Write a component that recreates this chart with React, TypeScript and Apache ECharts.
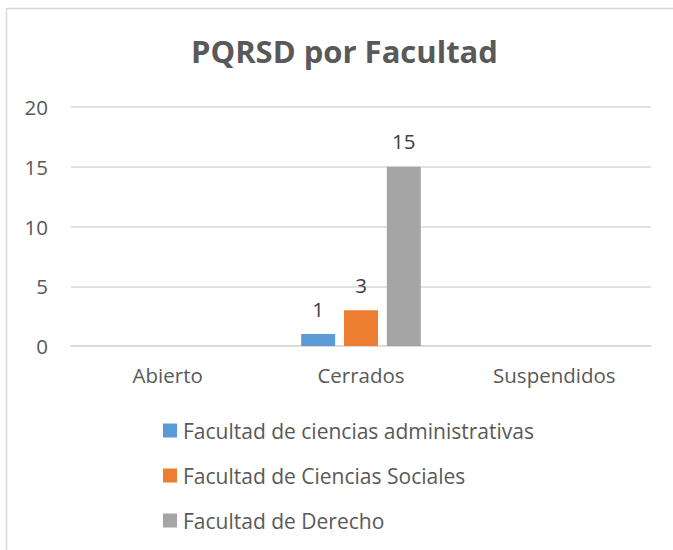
import React, { useEffect, useRef } from "react";
import * as echarts from "echarts";

const categories = ["Abierto", "Cerrados", "Suspendidos"];
const seriesNames = [
  "Facultad de ciencias administrativas",
  "Facultad de Ciencias Sociales",
  "Facultad de Derecho",
];
const adminValues = [null, 1, null];
const socialesValues = [null, 3, null];
const derechoValues = [null, 15, null];
const colors = ["#5B9BD5", "#ED7D31", "#A5A5A5"];
const yTicks = { min: 0, max: 20, interval: 5 };

const FONT = "'Open Sans', sans-serif";

export default function App() {
  const ref = useRef<HTMLDivElement>(null);
  useEffect(() => {
    if (!ref.current) return;
    const chart = echarts.init(ref.current, null, { renderer: "svg" });
    const values = [adminValues, socialesValues, derechoValues];
    chart.setOption({
      animation: false,
      backgroundColor: "#ffffff",
      title: {
        text: "PQRSD por Facultad",
        left: 191,
        top: 35,
        padding: 0,
        textStyle: { fontFamily: FONT, fontSize: 31, fontWeight: "bold", color: "#595959" },
      },
      graphic: [
        {
          type: "rect",
          shape: { x: 6.5, y: 8.5, width: 700, height: 600 },
          style: { fill: "none", stroke: "#D9D9D9", lineWidth: 1.5 },
          silent: true,
        },
      ],
      grid: { left: 71, right: 22, top: 107, bottom: 204, containLabel: false },
      legend: {
        orient: "vertical",
        left: 163,
        top: 420,
        padding: 0,
        itemWidth: 14,
        itemHeight: 14,
        itemGap: 24,
        icon: "rect",
        data: seriesNames,
        textStyle: { fontFamily: FONT, fontSize: 21, color: "#595959", padding: [0, 0, 0, 1] },
      },
      xAxis: {
        type: "category",
        data: categories,
        axisLine: { show: true, lineStyle: { color: "#D9D9D9", width: 1.5 } },
        axisTick: { show: false },
        axisLabel: { fontFamily: FONT, fontSize: 20.5, color: "#595959", margin: 18 },
      },
      yAxis: {
        type: "value",
        min: yTicks.min,
        max: yTicks.max,
        interval: yTicks.interval,
        axisLine: { show: false },
        axisTick: { show: false },
        splitLine: { lineStyle: { color: "#D9D9D9", width: 1.5 } },
        axisLabel: { fontFamily: FONT, fontSize: 20.5, color: "#595959", margin: 23 },
      },
      series: seriesNames.map((name, i) => ({
        name,
        type: "bar",
        data: values[i],
        barWidth: 34,
        barGap: "26%",
        itemStyle: { color: colors[i] },
        label: {
          show: true,
          position: "top",
          distance: 15,
          fontFamily: FONT,
          fontSize: 20.5,
          color: "#404040",
        },
      })),
    });
    return () => chart.dispose();
  }, []);
  return (
    <div
      ref={ref}
      style={{ position: "fixed", left: 0, top: 0, width: 673, height: 550 }}
    />
  );
}
